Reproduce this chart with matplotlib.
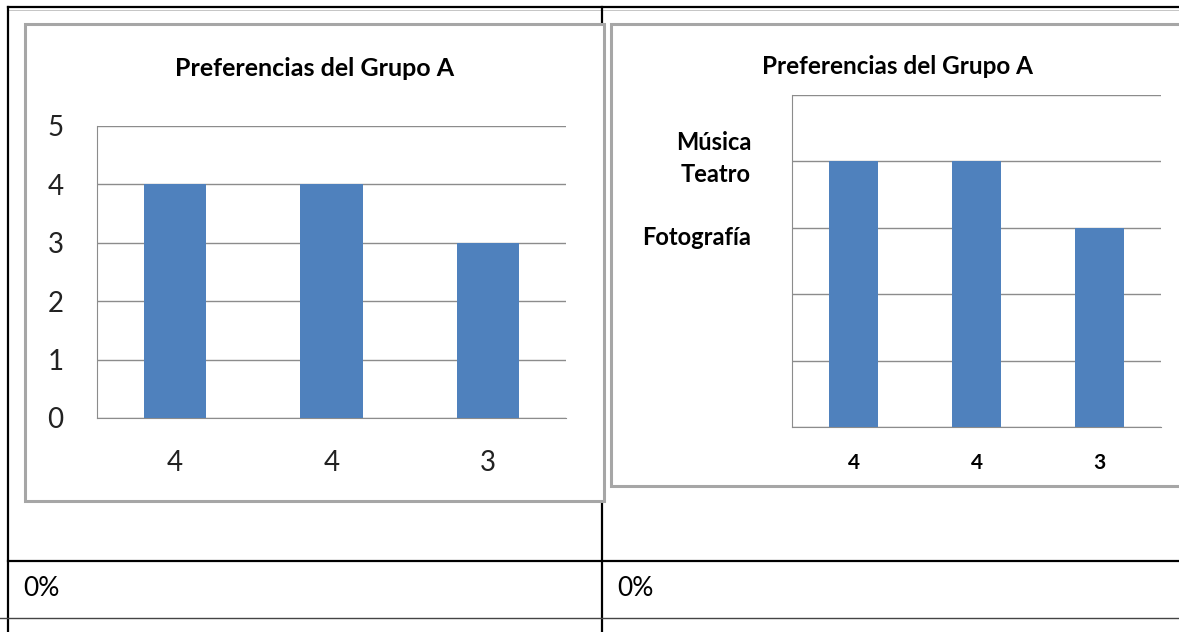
import numpy as np
import matplotlib.pyplot as plt
from matplotlib.patches import Rectangle

## DATOS ##
titulo = 'Preferencias del Grupo A'
categorias = ['4', '4', '3']
valores = [4, 4, 3]
yticks_izq = [0, 1, 2, 3, 4, 5]
etiquetas_der = ['Música', 'Teatro', 'Fotografía']
pos_etiquetas_der = [4.29, 3.80, 2.85]
celdas = ['0%', '0%']

## ESTILO ##
W, H = 1179, 632
azul = '#4F81BD'
gris = '#8c8c8c'
plt.rcParams['font.family'] = ['Lato', 'DejaVu Sans']

fig = plt.figure(figsize=(W/100, H/100), dpi=100)

def caja(x0, y0, x1, y1):
    # pixeles (desde arriba) -> fraccion de figura
    return [x0/W, 1 - y1/H, (x1-x0)/W, (y1-y0)/H]

# fondo: tabla y marcos
bg = fig.add_axes([0, 0, 1, 1])
bg.set_xlim(0, W)
bg.set_ylim(H, 0)
bg.axis('off')
bg.plot([8, W], [7, 7], color='k', lw=1.6)
bg.plot([8, W], [9.5, 9.5], color='#bbbbbb', lw=0.6)
bg.plot([8, 8], [7, H], color='k', lw=1.6)
bg.plot([602, 602], [7, H], color='k', lw=1.6)
bg.plot([8, W], [561, 561], color='k', lw=1.6)
bg.plot([0, W], [618, 618], color='#444444', lw=1.0)
bg.add_patch(Rectangle((25, 24), 579, 477, facecolor='white', edgecolor='#a6a6a6', lw=2.2, zorder=3))
bg.add_patch(Rectangle((611, 24), 600, 462, facecolor='white', edgecolor='#a6a6a6', lw=2.2, zorder=3))
bg.text(23, 588, celdas[0], fontsize=19, va='center', ha='left')
bg.text(617, 588, celdas[1], fontsize=19, va='center', ha='left')
bg.text(315, 68, titulo, fontsize=18, fontweight='bold', ha='center', va='center', zorder=4)
bg.text(897, 67, titulo, fontsize=17.5, fontweight='bold', ha='center', va='center', zorder=4)

x = np.arange(len(valores))

# (1) grafico izquierdo
ax1 = fig.add_axes(caja(97, 126, 566, 418))
ax1.set_zorder(5)
ax1.patch.set_alpha(0)
ax1.bar(x, valores, width=0.4, color=azul, zorder=3)
ax1.set_xlim(-0.5, 2.5)
ax1.set_ylim(0, 5)
ax1.set_yticks(yticks_izq)
ax1.set_yticklabels([str(v) for v in yticks_izq], fontsize=20, color='#222222')
ax1.set_xticks(x)
ax1.set_xticklabels(categorias, fontsize=20, color='#222222')
ax1.grid(axis='y', color=gris, lw=1.0, zorder=1)
ax1.tick_params(length=0)
ax1.tick_params(axis='y', pad=24)
ax1.tick_params(axis='x', pad=23)
for s in ['top', 'right']:
    ax1.spines[s].set_visible(False)
for s in ['left', 'bottom']:
    ax1.spines[s].set_color(gris)

# (2) grafico derecho
ax2 = fig.add_axes(caja(792, 95, 1161, 427))
ax2.set_zorder(5)
ax2.patch.set_alpha(0)
ax2.bar(x, valores, width=0.4, color=azul, zorder=3)
ax2.set_xlim(-0.5, 2.5)
ax2.set_ylim(0, 5)
ax2.set_yticks(yticks_izq)
ax2.set_yticklabels([])
ax2.set_xticks(x)
ax2.set_xticklabels(categorias, fontsize=15, fontweight='bold')
ax2.grid(axis='y', color=gris, lw=1.0, zorder=1)
ax2.tick_params(length=0)
ax2.tick_params(axis='x', pad=19)
for s in ['top', 'right']:
    ax2.spines[s].set_visible(False)
for s in ['left', 'bottom']:
    ax2.spines[s].set_color(gris)
for lab, yy in zip(etiquetas_der, pos_etiquetas_der):
    ax2.text(-0.111, yy, lab, transform=ax2.get_yaxis_transform(), fontsize=17,
             fontweight='bold', ha='right', va='center')

plt.savefig('out.png', dpi=100)
